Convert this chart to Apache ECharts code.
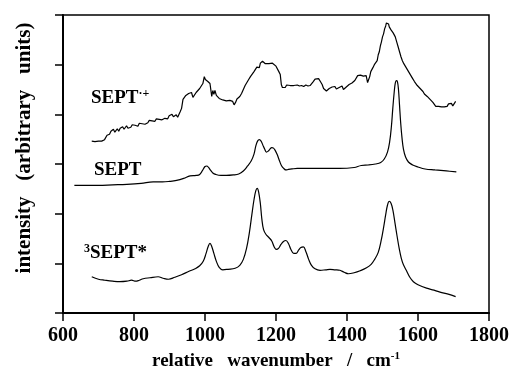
<!DOCTYPE html>
<html lang="en">
  <head>
    <meta charset="UTF-8" />
    <title>SEPT spectra</title>
    <script src="https://cdn.jsdelivr.net/npm/echarts@6/dist/echarts.min.js"></script>
    <style>
      html, body { margin: 0; padding: 0; background: #fff; }
      .con { width: 513px; height: 370px; }
    </style>
  </head>
  <body>
    <div class="con"></div>
    <script>
      // [wavenumber, offset intensity]
      let radicalCation = [
        [681, 3.46], [686, 3.44], [690, 3.45], [695, 3.43], [700, 3.46], [704, 3.44], [709, 3.46], [713, 3.45],
        [717, 3.49], [720, 3.47], [724, 3.58], [727, 3.54], [731, 3.60], [735, 3.66], [738, 3.62], [742, 3.70],
        [746, 3.64], [749, 3.67], [753, 3.71], [757, 3.66], [761, 3.72], [764, 3.69], [768, 3.75], [772, 3.70],
        [776, 3.73], [779, 3.77], [783, 3.72], [787, 3.76], [791, 3.74], [795, 3.79], [799, 3.75], [803, 3.78],
        [807, 3.80], [811, 3.76], [815, 3.82], [819, 3.79], [823, 3.81], [827, 3.85], [831, 3.80], [835, 3.84],
        [839, 3.83], [843, 3.88], [847, 3.84], [851, 3.87], [855, 3.90], [859, 3.86], [863, 3.91], [867, 3.88],
        [871, 3.90], [875, 3.94], [879, 3.89], [883, 3.93], [887, 3.92], [891, 3.96], [895, 3.91], [899, 3.97],
        [903, 3.94], [907, 4.00], [911, 3.95], [915, 3.97], [919, 3.99], [923, 3.94], [927, 3.98], [930, 4.05],
        [934, 4.12], [938, 4.30], [942, 4.26], [946, 4.38], [950, 4.34], [954, 4.42], [958, 4.40], [962, 4.44],
        [966, 4.34], [970, 4.38], [975, 4.44], [980, 4.48], [985, 4.52], [990, 4.56], [994, 4.62], [998, 4.76],
        [1001, 4.70], [1004, 4.72], [1008, 4.66], [1011, 4.70], [1014, 4.62], [1017, 4.64], [1019, 4.36], [1022, 4.48],
        [1025, 4.40], [1028, 4.48], [1032, 4.38], [1036, 4.36], [1040, 4.32], [1045, 4.34], [1050, 4.29], [1055, 4.31],
        [1060, 4.27], [1065, 4.30], [1070, 4.28], [1074, 4.32], [1078, 4.26], [1082, 4.19], [1086, 4.24], [1090, 4.31],
        [1094, 4.28], [1098, 4.36], [1103, 4.42], [1108, 4.50], [1113, 4.58], [1118, 4.64], [1123, 4.70], [1128, 4.76],
        [1133, 4.80], [1138, 4.86], [1142, 4.90], [1146, 4.95], [1150, 4.98], [1153, 4.94], [1156, 5.03], [1159, 5.00],
        [1162, 5.07], [1165, 5.04], [1170, 5.02], [1175, 5.00], [1180, 5.02], [1185, 5.01], [1190, 5.03], [1195, 5.00],
        [1200, 4.97], [1204, 4.93], [1208, 4.86], [1212, 4.80], [1215, 4.60], [1218, 4.54], [1222, 4.57], [1226, 4.54],
        [1230, 4.59], [1235, 4.56], [1240, 4.58], [1245, 4.55], [1250, 4.58], [1255, 4.56], [1260, 4.59], [1266, 4.57],
        [1272, 4.58], [1278, 4.56], [1284, 4.59], [1290, 4.57], [1296, 4.58], [1300, 4.60], [1305, 4.66], [1310, 4.71],
        [1315, 4.73], [1320, 4.72], [1325, 4.66], [1330, 4.60], [1334, 4.52], [1338, 4.48], [1342, 4.47], [1346, 4.46],
        [1350, 4.52], [1354, 4.56], [1358, 4.55], [1362, 4.52], [1366, 4.56], [1370, 4.51], [1374, 4.48], [1378, 4.54],
        [1382, 4.50], [1386, 4.57], [1390, 4.50], [1394, 4.47], [1398, 4.55], [1402, 4.52], [1406, 4.60], [1410, 4.58],
        [1414, 4.63], [1418, 4.66], [1422, 4.68], [1426, 4.72], [1430, 4.78], [1434, 4.76], [1438, 4.79], [1442, 4.75],
        [1446, 4.77], [1450, 4.73], [1454, 4.78], [1458, 4.64], [1461, 4.70], [1464, 4.76], [1467, 4.86], [1470, 4.82],
        [1473, 4.94], [1477, 5.00], [1481, 5.04], [1485, 5.08], [1488, 5.20], [1491, 5.26], [1494, 5.38], [1497, 5.46],
        [1500, 5.56], [1503, 5.62], [1506, 5.72], [1509, 5.78], [1511, 5.84], [1513, 5.80], [1515, 5.86], [1517, 5.82],
        [1519, 5.76], [1521, 5.74], [1524, 5.70], [1527, 5.66], [1530, 5.64], [1533, 5.60], [1536, 5.56], [1540, 5.46],
        [1544, 5.36], [1548, 5.26], [1552, 5.16], [1556, 5.08], [1560, 5.02], [1565, 4.96], [1570, 4.90], [1575, 4.84],
        [1580, 4.78], [1585, 4.72], [1590, 4.66], [1594, 4.64], [1598, 4.58], [1602, 4.56], [1606, 4.52], [1610, 4.48],
        [1614, 4.46], [1618, 4.41], [1622, 4.42], [1626, 4.36], [1630, 4.35], [1634, 4.30], [1638, 4.31], [1642, 4.24],
        [1646, 4.20], [1650, 4.16], [1654, 4.18], [1658, 4.16], [1662, 4.19], [1666, 4.15], [1670, 4.17], [1674, 4.15],
        [1678, 4.18], [1682, 4.16], [1686, 4.21], [1690, 4.18], [1694, 4.22], [1698, 4.17], [1702, 4.21], [1706, 4.26]
      ];
      let groundState = [
        [632, 2.57], [660, 2.57], [700, 2.57], [740, 2.58], [780, 2.59], [820, 2.61], [854, 2.64], [880, 2.64],
        [900, 2.65], [920, 2.67], [940, 2.71], [958, 2.76], [975, 2.77], [985, 2.79], [993, 2.87], [1000, 2.95],
        [1005, 2.96], [1010, 2.93], [1016, 2.87], [1022, 2.82], [1030, 2.79], [1045, 2.77], [1060, 2.77], [1080, 2.78],
        [1095, 2.80], [1108, 2.86], [1120, 2.96], [1130, 3.06], [1138, 3.20], [1143, 3.36], [1148, 3.46], [1153, 3.49],
        [1158, 3.46], [1163, 3.38], [1168, 3.30], [1173, 3.24], [1178, 3.26], [1183, 3.30], [1188, 3.33], [1193, 3.32],
        [1198, 3.27], [1204, 3.18], [1210, 3.06], [1216, 2.96], [1222, 2.91], [1228, 2.88], [1235, 2.89], [1245, 2.90],
        [1260, 2.91], [1300, 2.91], [1340, 2.91], [1380, 2.91], [1420, 2.93], [1440, 2.97], [1460, 2.98], [1480, 3.00],
        [1495, 3.03], [1505, 3.10], [1514, 3.24], [1520, 3.44], [1525, 3.75], [1529, 4.12], [1533, 4.45], [1536, 4.63],
        [1539, 4.68], [1542, 4.66], [1545, 4.50], [1548, 4.18], [1551, 3.85], [1555, 3.52], [1559, 3.30], [1565, 3.14],
        [1573, 3.04], [1585, 2.98], [1600, 2.94], [1620, 2.90], [1648, 2.88], [1680, 2.86], [1708, 2.84]
      ];
      let tripletState = [
        [681, 0.73], [700, 0.68], [718, 0.66], [740, 0.64], [760, 0.63], [780, 0.64], [793, 0.66], [805, 0.64],
        [815, 0.66], [826, 0.69], [845, 0.71], [868, 0.73], [882, 0.70], [897, 0.68], [915, 0.72], [934, 0.77],
        [955, 0.84], [972, 0.89], [985, 0.95], [995, 1.04], [1003, 1.20], [1009, 1.34], [1014, 1.40], [1019, 1.34],
        [1025, 1.20], [1032, 1.04], [1040, 0.92], [1050, 0.87], [1065, 0.88], [1085, 0.90], [1098, 0.96], [1108, 1.08],
        [1117, 1.30], [1125, 1.62], [1132, 1.98], [1138, 2.28], [1143, 2.46], [1147, 2.51], [1151, 2.44], [1156, 2.20],
        [1160, 1.90], [1165, 1.68], [1172, 1.58], [1180, 1.52], [1188, 1.45], [1195, 1.33], [1201, 1.28], [1207, 1.30],
        [1214, 1.38], [1221, 1.44], [1228, 1.46], [1235, 1.40], [1242, 1.28], [1250, 1.20], [1257, 1.20], [1264, 1.27],
        [1270, 1.32], [1277, 1.33], [1284, 1.24], [1292, 1.08], [1300, 0.96], [1310, 0.89], [1324, 0.86], [1340, 0.87],
        [1352, 0.88], [1366, 0.87], [1380, 0.86], [1392, 0.82], [1404, 0.79], [1420, 0.81], [1437, 0.85], [1455, 0.91],
        [1468, 0.98], [1478, 1.08], [1488, 1.22], [1496, 1.45], [1503, 1.72], [1509, 1.98], [1514, 2.17], [1519, 2.25],
        [1524, 2.21], [1529, 2.08], [1535, 1.82], [1541, 1.55], [1547, 1.30], [1553, 1.10], [1559, 0.97], [1567, 0.86],
        [1577, 0.72], [1587, 0.63], [1600, 0.57], [1624, 0.50], [1645, 0.46], [1662, 0.42], [1685, 0.38], [1706, 0.33]
      ];
      let xTicks = [600, 800, 1000, 1200, 1400, 1600, 1800];

      let serif = "'Liberation Serif', 'Times New Roman', serif";
      let mychart = echarts.init(document.querySelector(".con"));

      // 文字标签（带上标）
      let supStyle = { fontFamily: serif, fontWeight: "bold", fontSize: 12, lineHeight: 12, verticalAlign: "top" };
      let label = (x, y, text) => ({
        type: "text",
        x: x,
        y: y,
        style: {
          text: text,
          fontFamily: serif,
          fontWeight: "bold",
          fontSize: 19,
          lineHeight: 20,
          fill: "#000",
          rich: { sup: supStyle, n: { fontFamily: serif, fontWeight: "bold", fontSize: 19, lineHeight: 20 } },
        },
      });

      let options = {
        animation: false,
        backgroundColor: "#fff",
        grid: {
          left: 63, top: 15, right: 24, bottom: 57,
          outerBoundsMode: "none",
          show: true, borderColor: "#000", borderWidth: 1.5,
        },
        xAxis: {
          type: "value",
          min: xTicks[0],
          max: xTicks[xTicks.length - 1],
          interval: 200,
          splitLine: { show: false },
          axisLine: { lineStyle: { color: "#000", width: 2 } },
          axisTick: { show: true, length: 8, lineStyle: { color: "#000", width: 1.5 } },
          axisLabel: {
            color: "#000", fontFamily: serif, fontWeight: "bold", fontSize: 20, margin: 13,
            formatter: (v) => String(v),
          },
          name: "relative   wavenumber   /   cm{sup|-1}",
          nameLocation: "middle",
          nameGap: 36,
          nameTextStyle: {
            color: "#000", fontFamily: serif, fontWeight: "bold", fontSize: 19, lineHeight: 20,
            rich: { sup: { fontFamily: serif, fontWeight: "bold", fontSize: 11, lineHeight: 11, verticalAlign: "top" } },
          },
        },
        yAxis: {
          type: "value",
          min: 0,
          max: 6,
          interval: 1,
          splitLine: { show: false },
          axisLine: { lineStyle: { color: "#000", width: 2 } },
          axisTick: { show: true, length: 8, lineStyle: { color: "#000", width: 1.5 } },
          axisLabel: { show: false },
        },
        graphic: [
          {
            type: "text",
            x: 25,
            y: 148,
            rotation: Math.PI / 2,
            style: {
              text: "intensity   (arbitrary   units)",
              fontFamily: serif,
              fontWeight: "bold",
              fontSize: 21,
              fill: "#000",
              align: "center",
              verticalAlign: "middle",
            },
          },
          label(91, 88, "{n|SEPT}{sup|·+}"),
          label(94, 160, "SEPT"),
          label(84, 243, "{sup|3}{n|SEPT*}"),
        ],
        series: [
          { type: "line", data: radicalCation, showSymbol: false, lineStyle: { color: "#000", width: 1.2 } },
          { type: "line", data: groundState, showSymbol: false, smooth: 0.4, lineStyle: { color: "#000", width: 1.2 } },
          { type: "line", data: tripletState, showSymbol: false, smooth: 0.4, lineStyle: { color: "#000", width: 1.2 } },
        ],
      };
      mychart.setOption(options);
    </script>
  </body>
</html>
